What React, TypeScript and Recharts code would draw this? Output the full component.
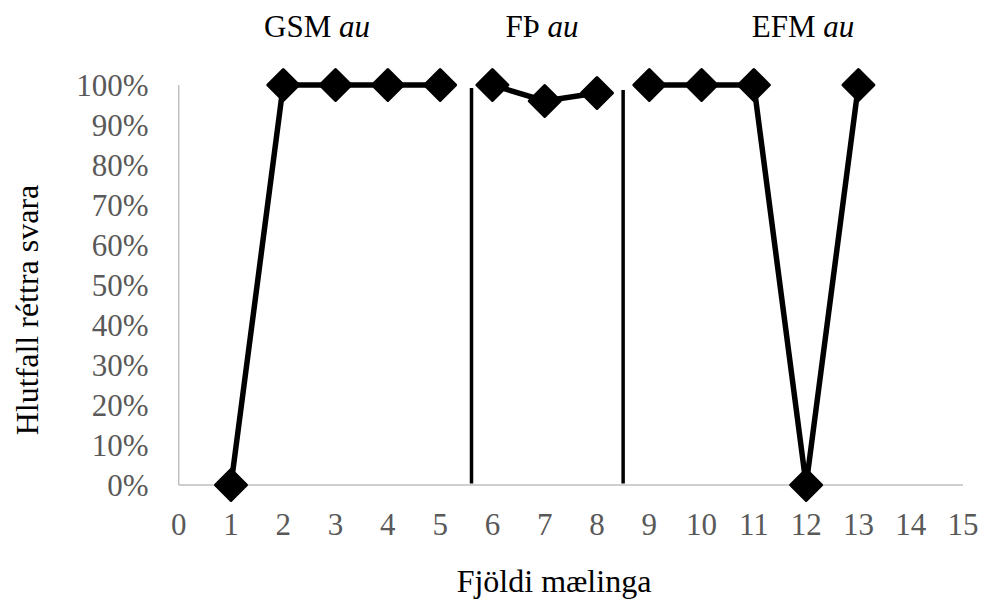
import { LineChart, Line, XAxis, YAxis, ReferenceLine } from "recharts";

const FONT = '"Liberation Serif", "Times New Roman", serif';

// mælingar (x) og hlutfall réttra svara (%) fyrir hvern hóp
const gsmPoints = [1, 2, 3, 4, 5];
const gsmValues = [0, 100, 100, 100, 100];
const fthPoints = [6, 7, 8];
const fthValues = [100, 96, 98];
const efmPoints = [9, 10, 11, 12, 13];
const efmValues = [100, 100, 100, 0, 100];

const xTicks = [0, 1, 2, 3, 4, 5, 6, 7, 8, 9, 10, 11, 12, 13, 14, 15];
const yTicks = [0, 10, 20, 30, 40, 50, 60, 70, 80, 90, 100];

// skillilínur milli hópa
const dividers = [
  { x: 5.6, top: 99.25, bottom: 0.4 },
  { x: 8.5, top: 98.75, bottom: 0.4 },
];

const groupLabels = [
  { name: "GSM", cx: 317 },
  { name: "FÞ", cx: 542 },
  { name: "EFM", cx: 803 },
];

type Row = { x: number; gsm?: number; fth?: number; efm?: number };

const chartData: Row[] = [
  ...gsmPoints.map((x, i) => ({ x, gsm: gsmValues[i] })),
  ...fthPoints.map((x, i) => ({ x, fth: fthValues[i] })),
  ...efmPoints.map((x, i) => ({ x, efm: efmValues[i] })),
];

const Diamond = (props: any) => {
  const { cx, cy, index } = props;
  if (cx == null || cy == null || props.value == null) return <g key={index} />;
  const r = 15.5;
  return (
    <polygon
      key={index}
      points={`${cx},${cy - r} ${cx + r},${cy} ${cx},${cy + r} ${cx - r},${cy}`}
      fill="#000"
      stroke="#000"
      strokeWidth={3}
      strokeLinejoin="round"
    />
  );
};

export default function App() {
  return (
    <div style={{ position: "absolute", left: 0, top: 0, width: 987, height: 600, background: "#fff", fontFamily: FONT }}>
      <LineChart
        width={987}
        height={600}
        data={chartData}
        margin={{ top: 85, right: 24, left: 0, bottom: 55 }}
      >
        <XAxis
          dataKey="x"
          type="number"
          domain={[0, 15]}
          ticks={xTicks}
          interval={0}
          height={60}
          axisLine={{ stroke: "#bfbfbf", strokeWidth: 1.5 }}
          tickLine={false}
          tickSize={0}
          tickMargin={28}
          tick={{ fill: "#595959", fontSize: 31, fontFamily: FONT }}
        />
        <YAxis
          type="number"
          domain={[0, 100]}
          ticks={yTicks}
          interval={0}
          width={178.7}
          axisLine={{ stroke: "#bfbfbf", strokeWidth: 1.5 }}
          tickLine={false}
          tickSize={0}
          tickMargin={30}
          tickFormatter={(v: number) => `${v}%`}
          tick={{ fill: "#595959", fontSize: 31, fontFamily: FONT }}
        />
        {dividers.map((d) => (
          <ReferenceLine
            key={d.x}
            segment={[
              { x: d.x, y: d.bottom },
              { x: d.x, y: d.top },
            ]}
            stroke="#000"
            strokeWidth={3.5}
          />
        ))}
        <Line type="linear" dataKey="gsm" stroke="#000" strokeWidth={5.5} dot={Diamond} activeDot={false} isAnimationActive={false} />
        <Line type="linear" dataKey="fth" stroke="#000" strokeWidth={5.5} dot={Diamond} activeDot={false} isAnimationActive={false} />
        <Line type="linear" dataKey="efm" stroke="#000" strokeWidth={5.5} dot={Diamond} activeDot={false} isAnimationActive={false} />
      </LineChart>

      <svg width={987} height={600} style={{ position: "absolute", left: 0, top: 0, pointerEvents: "none" }}>
        {groupLabels.map((g) => (
          <text key={g.name} x={g.cx} y={37} textAnchor="middle" fontSize={31} fontFamily={FONT} fill="#000">
            {g.name} <tspan fontStyle="italic">au</tspan>
          </text>
        ))}
        <text x={554} y={592} textAnchor="middle" fontSize={32} fontFamily={FONT} fill="#000">
          Fjöldi mælinga
        </text>
        <text x={38} y={310} transform="rotate(-90 38 310)" textAnchor="middle" fontSize={32} fontFamily={FONT} fill="#000">
          Hlutfall réttra svara
        </text>
      </svg>
    </div>
  );
}
